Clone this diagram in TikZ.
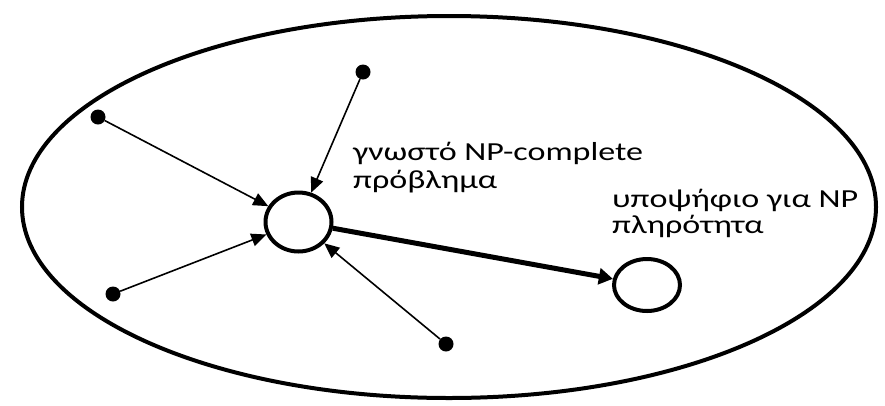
\documentclass[tikz,border=0pt]{standalone}
\usepackage{fontspec}
\setmainfont[FakeStretch=1.31]{Carlito}
\usetikzlibrary{shapes.geometric,arrows.meta}
\tikzset{
  ring/.style={ellipse, draw, line width=4pt, inner sep=0pt},
  dot/.style={circle, fill=black, inner sep=0pt, minimum size=15pt},
  thinarrow/.style={line width=1.6pt, -{Triangle[length=15pt,width=13pt]}},
  thickarrow/.style={line width=5pt, -{Triangle[length=14pt,width=16pt]}},
  lbl/.style={font=\fontsize{26}{27.5}\selectfont, inner sep=0pt, anchor=base west}
}
\begin{document}
\begin{tikzpicture}[x=1pt,y=-1pt]
\useasboundingbox (0,0) rectangle (885,405);
\node[ring, minimum width=854pt, minimum height=382pt] (outer) at (449,207) {};
\node[ring, minimum width=66pt, minimum height=59pt] (known) at (298.5,222) {};
\node[ring, minimum width=66pt, minimum height=52pt] (cand) at (647,285) {};
\node[dot] (d1) at (98,117) {};
\node[dot] (d2) at (363,72) {};
\node[dot] (d3) at (113,294) {};
\node[dot] (d4) at (446,344) {};
\draw[thinarrow] (d1) -- (known);
\draw[thinarrow] (d2) -- (known);
\draw[thinarrow] (d3) -- (known);
\draw[thinarrow] (d4) -- (known);
\draw[thickarrow] (known) -- (cand);
\node[lbl] (t1a) at (353,160) {γνωστό NP-complete};
\node[lbl] (t1b) at (353,188) {πρόβλημα};
\node[lbl] (t2a) at (612,207) {υποψήφιο για NP};
\node[lbl] (t2b) at (612,233) {πληρότητα};
\end{tikzpicture}
\end{document}
